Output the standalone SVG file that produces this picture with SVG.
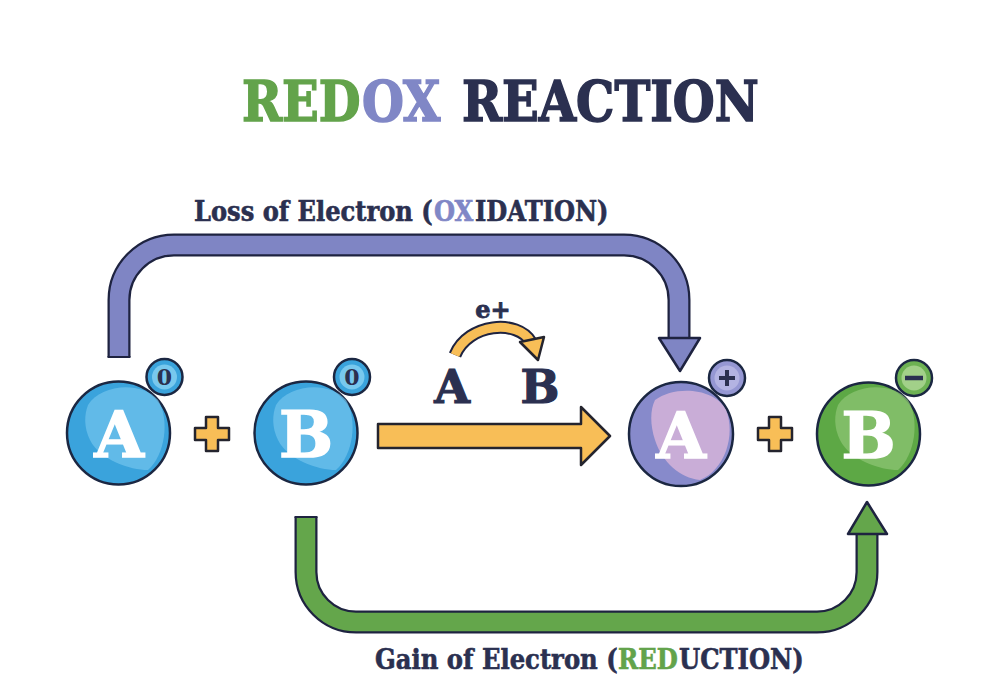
<svg xmlns="http://www.w3.org/2000/svg" width="1000" height="675" viewBox="0 0 1000 675">
<style>
.ttl{font-family:"DejaVu Serif","Liberation Serif",serif;font-weight:bold}
.navy{fill:#2b3050;stroke:#2b3050}
.grn{fill:#63a34b;stroke:#63a34b}
.lav{fill:#8087c6;stroke:#8087c6}
.h1{font-size:56px;stroke-width:1.6}
.lb{font-size:27px;stroke-width:0.6}
.out{fill:none;stroke:#1e2340;stroke-linejoin:round}
.ol{stroke:#1b2742;stroke-width:2.5}
.big{font-family:"DejaVu Serif","Liberation Serif",serif;font-weight:bold;font-size:64px;fill:#ffffff;stroke:#ffffff;stroke-width:1.5;text-anchor:middle}
.sm{font-family:"DejaVu Serif","Liberation Serif",serif;font-weight:bold;font-size:22px;fill:#2b3050;text-anchor:middle}
.yel{fill:#f8be57;stroke:#24242e;stroke-width:2.5;stroke-linejoin:round}
</style>
<rect width="1000" height="675" fill="#ffffff"/>

<g id="title">
<text class="ttl h1 grn" transform="translate(242,121) scale(0.86,1)">RED</text>
<text class="ttl h1 lav" transform="translate(362,121) scale(0.86,1)">OX</text>
<text class="ttl h1 navy" transform="translate(462,121) scale(0.86,1)">REACTION</text>
</g>

<g id="label-oxidation">
<text class="ttl lb navy" transform="translate(194,221) scale(0.895,1)">Loss of Electron (</text>
<text class="ttl lb lav" transform="translate(434,221) scale(0.895,1)">OX</text>
<text class="ttl lb navy" transform="translate(475,221) scale(0.895,1)">IDATION)</text>
</g>
<g id="label-reduction">
<text class="ttl lb navy" transform="translate(375,669) scale(0.9,1)">Gain of Electron (</text>
<text class="ttl lb grn" transform="translate(618,669) scale(0.9,1)">RED</text>
<text class="ttl lb navy" transform="translate(679,669) scale(0.9,1)">UCTION)</text>
</g>

<g id="connectors">
  <path class="out" stroke-width="23" d="M119,357 V300 A55,55 0 0 1 174,245 H624 A55,55 0 0 1 679,300 V342"/>
  <path fill="none" stroke="#7f85c4" stroke-width="18.5" d="M119,357 V300 A55,55 0 0 1 174,245 H624 A55,55 0 0 1 679,300 V342"/>
  <line x1="107.5" y1="357" x2="130.5" y2="357" stroke="#1e2340" stroke-width="2"/>
  <polygon points="659,338 700,338 680,371" fill="#7f85c4" stroke="#1e2340" stroke-width="2.5" stroke-linejoin="round"/>
  <path class="out" stroke-width="23" d="M306,517 V572 A50,50 0 0 0 356,622 H817 A50,50 0 0 0 867,572 V530"/>
  <path fill="none" stroke="#64a64b" stroke-width="18.5" d="M306,517 V572 A50,50 0 0 0 356,622 H817 A50,50 0 0 0 867,572 V530"/>
  <line x1="294.5" y1="517" x2="317.5" y2="517" stroke="#1e2340" stroke-width="2"/>
  <polygon points="848,534 887,534 867,502" fill="#64a64b" stroke="#1e2340" stroke-width="2.5" stroke-linejoin="round"/>
  <polygon class="yel" points="378,424 581,424 581,407 610,436 581,465 581,448 378,448"/>
  <path class="out" stroke-width="13" d="M455,355 C468,323 518,319 531,342"/>
  <path fill="none" stroke="#f8be57" stroke-width="9" d="M455,355 C468,323 518,319 531,342"/>
  <polygon class="yel" points="520,342 544,337 538,360"/>
</g>

<g id="transfer-labels">
  <text class="ttl navy" x="493" y="318" font-size="24" stroke-width="0.8" text-anchor="middle">e+</text>
  <text class="ttl navy" x="452" y="403" font-size="46" stroke-width="1.2" text-anchor="middle">A</text>
  <text class="ttl navy" x="540" y="403" font-size="46" stroke-width="1.2" text-anchor="middle">B</text>
</g>

<g id="plus1">
  <polygon class="yel" points="206,417 218,417 218,428 229,428 229,440 218,440 218,451 206,451 206,440 195,440 195,428 206,428"/>
</g>
<g id="plus2">
  <polygon class="yel" points="769,417 781,417 781,428 792,428 792,440 781,440 781,451 769,451 769,440 758,440 758,428 769,428"/>
</g>

<g id="atom-A0">
  <circle cx="118.5" cy="433" r="51.5" fill="#3aa3dc" class="ol"/>
  <path d="M88,405 C100,385 140,380 158,400 C170,420 165,455 148,470 C130,470 100,460 90,440 C84,428 84,415 88,405 Z" fill="#6fc2ec" opacity="0.75"/>
  <text class="big" x="119" y="457">A</text>
  <circle cx="164.5" cy="377" r="18" fill="#3aa3dc" class="ol"/>
  <circle cx="164.5" cy="377" r="12.5" fill="#78c8ee"/>
  <text class="sm" x="164.5" y="385">0</text>
</g>

<g id="atom-B0">
  <circle cx="306" cy="433" r="51.5" fill="#3aa3dc" class="ol"/>
  <path d="M276,405 C288,385 328,380 346,400 C358,420 353,455 336,470 C318,470 288,460 278,440 C272,428 272,415 276,405 Z" fill="#6fc2ec" opacity="0.75"/>
  <text class="big" x="306" y="457">B</text>
  <circle cx="352" cy="377" r="18" fill="#3aa3dc" class="ol"/>
  <circle cx="352" cy="377" r="12.5" fill="#78c8ee"/>
  <text class="sm" x="352" y="385">0</text>
</g>

<g id="atom-Aplus">
  <circle cx="681" cy="434" r="52" fill="#878acb" class="ol"/>
  <path d="M655,400 C675,385 715,388 726,410 C736,435 725,470 700,480 C680,478 662,462 655,440 C650,425 650,410 655,400 Z" fill="#d9b5da" opacity="0.8"/>
  <text class="big" x="681" y="458">A</text>
  <circle cx="727" cy="378" r="18" fill="#9597d3" class="ol"/>
  <circle cx="727" cy="378" r="12.5" fill="#b3b3e2"/>
  <path d="M727,370 V386 M719,378 H735" stroke="#2b3050" stroke-width="4"/>
</g>

<g id="atom-Bminus">
  <circle cx="868.5" cy="434" r="51.5" fill="#5da845" class="ol"/>
  <path d="M838,405 C850,385 890,380 908,400 C920,420 915,455 898,470 C880,470 850,460 840,440 C834,428 834,415 838,405 Z" fill="#8cc473" opacity="0.75"/>
  <text class="big" x="868.5" y="458">B</text>
  <circle cx="914" cy="378" r="18" fill="#6db253" class="ol"/>
  <circle cx="914" cy="378" r="12.5" fill="#a2d089"/>
  <path d="M905,378 H923" stroke="#2b3050" stroke-width="4.5"/>
</g>
</svg>
